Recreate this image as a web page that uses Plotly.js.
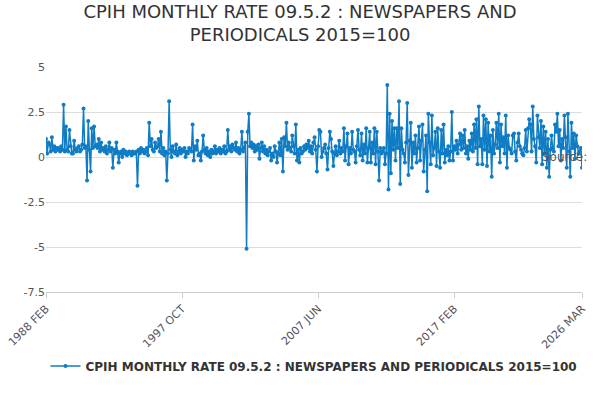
<!DOCTYPE html>
<html><head><meta charset="utf-8">
<script src="https://cdn.plot.ly/plotly-3.0.1.min.js"></script>
<style>body{margin:0}#c{width:600px;height:400px}</style>
</head><body><div id="c"></div>
<script>
var months=['JAN','FEB','MAR','APR','MAY','JUN','JUL','AUG','SEP','OCT','NOV','DEC'];
var y1988=[1.0,0.2,0.8,0.7,0.3,1.1,0.4,0.6,0.3,0.5,0.4];
var y1989=[0.5,0.3,0.6,0.4,2.9,0.3,1.7,0.4,0.3,1.5,0.6,0.2];
var y1990=[0.2,0.9,0.4,0.3,0.5,0.6,0.3,0.4,0.7,2.7,0.5,0.6];
var y1991=[-1.3,2.0,0.4,-0.8,1.6,0.5,1.7,0.6,0.7,0.5,1.0,0.3];
var y1992=[0.8,0.4,0.5,0.3,0.6,0.2,0.4,0.8,0.3,0.5,-0.6,0.4];
var y1993=[0.2,0.8,0.3,-0.3,0.2,0.3,0.0,0.4,0.2,0.3,0.1,0.2];
var y1994=[0.3,0.2,0.1,0.3,0.2,0.2,0.3,-1.6,0.4,0.2,0.5,0.3];
var y1995=[0.4,0.2,0.3,0.5,0.1,1.9,0.6,1.0,0.4,0.3,0.8,0.5];
var y1996=[0.6,1.0,0.3,1.4,0.2,0.5,0.1,0.3,-1.3,0.2,3.1,0.4];
var y1997=[0.0,0.6,0.3,0.2,0.7,0.1,0.3,0.5,0.2,0.4,0.3,0.5];
var y1998=[0.0,0.3,0.2,0.5,0.4,0.3,1.8,-0.2,0.6,0.4,0.9,0.1];
var y1999=[0.2,-0.2,0.3,1.2,0.4,0.2,0.5,0.1,0.3,0.0,0.4,0.2];
var y2000=[0.3,0.6,0.2,0.4,0.3,0.5,0.2,0.4,0.3,0.6,0.2,0.3];
var y2001=[1.5,0.4,0.6,0.3,0.7,0.5,0.4,0.8,0.3,0.5,0.2,0.4];
var y2002=[1.4,0.3,0.5,0.8,-5.1,1.4,2.4,0.6,0.8,0.5,0.7,0.3];
var y2003=[0.6,0.4,0.7,-0.1,0.5,0.8,0.3,0.6,0.2,0.4,0.1,0.3];
var y2004=[0.5,-0.2,0.2,0.0,0.6,0.3,-0.3,0.2,0.8,0.1,1.0,-0.8];
var y2005=[1.1,0.6,1.9,0.4,0.8,0.5,0.3,1.2,0.6,0.2,1.8,-0.2];
var y2006=[0.4,-0.3,0.5,0.2,0.3,0.6,0.4,0.7,0.5,0.9,0.3,0.6];
var y2007=[0.2,0.8,1.1,0.4,-0.8,0.6,1.5,1.4,0.0,0.3,0.5,0.7];
var y2008=[0.2,-0.7,0.5,1.4,1.0,0.3,-0.5,0.2,0.6,0.1,0.3,0.9];
var y2009=[0.2,0.5,0.3,1.6,-0.2,0.6,1.3,-0.4,0.5,0.2,1.4,0.4];
var y2010=[0.3,-0.3,0.6,1.5,0.4,0.1,1.3,-0.2,0.7,0.2,1.6,-0.3];
var y2011=[0.5,1.4,-0.3,0.8,0.2,1.6,-0.4,1.4,0.3,-1.3,0.5,0.2];
var y2012=[0.3,0.5,-0.4,0.2,4.0,-1.8,2.4,-0.9,2.0,0.4,1.6,-0.2];
var y2013=[1.6,0.5,3.1,-1.5,1.6,0.4,0.2,-0.3,0.8,3.0,-1.0,0.9];
var y2014=[1.9,-0.6,0.8,0.2,1.2,-0.3,0.5,1.7,-0.2,0.9,1.8,-0.8];
var y2015=[0.4,1.2,-1.9,2.4,0.8,-0.4,2.3,0.1,0.5,1.4,-0.5,1.6];
var y2016=[0.3,-0.6,1.5,0.2,1.8,-0.3,0.4,0.1,0.6,-0.2,0.3,2.5];
var y2017=[-0.2,0.6,0.4,0.9,0.2,0.7,1.3,0.4,1.2,0.5,1.5,0.2];
var y2018=[0.6,-0.1,0.9,0.4,1.3,0.3,1.8,0.5,2.1,-0.4,2.8,0.6];
var y2019=[1.0,-0.4,2.3,0.4,2.1,-0.5,1.9,0.3,1.2,-1.1,1.5,0.2];
var y2020=[0.7,1.9,0.5,2.4,-0.3,1.8,0.6,1.1,0.2,2.3,-0.6,1.2];
var y2021=[0.5,0.4,0.2,1.2,1.3,0.3,-0.2,0.8,1.3,0.6,0.4,0.2];
var y2022=[0.1,0.5,1.5,0.3,1.6,2.1,1.8,0.3,2.8,1.0,0.6,-0.3];
var y2023=[2.3,1.1,0.5,2.0,-0.4,1.7,0.2,1.4,-0.6,1.0,-1.1,0.4];
var y2024=[1.2,0.5,0.3,1.8,1.4,2.4,0.6,1.5,-0.2,1.0,0.5,2.3];
var y2025=[1.1,-0.6,2.4,0.3,-1.1,1.9,0.5,1.3,-0.1,1.2,0.6,0.2];
var y2026=[0.3,0.5,-0.6];
var tickLabels=['1988 FEB','1997 OCT','2007 JUN','2017 FEB','2026 MAR'];

var yearsData=[y1988,y1989,y1990,y1991,y1992,y1993,y1994,y1995,y1996,y1997,y1998,y1999,y2000,y2001,y2002,y2003,y2004,y2005,y2006,y2007,y2008,y2009,y2010,y2011,y2012,y2013,y2014,y2015,y2016,y2017,y2018,y2019,y2020,y2021,y2022,y2023,y2024,y2025,y2026];
var x=[],y=[];
yearsData.forEach(function(arr,k){
  var yr=1988+k, start=(yr===1988)?1:0;
  arr.forEach(function(v,j){x.push(yr+' '+months[start+j]);y.push(v);});
});
Plotly.newPlot('c',[{
  x:x,y:y,type:'scatter',mode:'lines+markers',
  name:'CPIH MONTHLY RATE 09.5.2 : NEWSPAPERS AND PERIODICALS 2015=100',
  line:{color:'#0f7cc4',width:1.5},marker:{color:'#0f7cc4',size:4}
}],{
  width:600,height:400,
  title:{text:'CPIH MONTHLY RATE 09.5.2 : NEWSPAPERS AND<br>PERIODICALS 2015=100',x:0.5,xanchor:'center',y:0.955,font:{family:'DejaVu Sans, sans-serif',size:18,color:'#333'}},
  margin:{l:46,r:18,t:67,b:108},
  font:{family:'DejaVu Sans, sans-serif',color:'#555',size:11},
  xaxis:{type:'category',automargin:false,range:[0,x.length-1],tickmode:'array',tickvals:tickLabels,ticktext:tickLabels,tickangle:-45,showgrid:false,showline:true,linecolor:'#ccc',ticks:'outside',ticklen:5,tickcolor:'#ccc'},
  yaxis:{automargin:false,range:[-7.5,5],tickvals:[-7.5,-5,-2.5,0,2.5,5],ticktext:['-7.5','-5','-2.5','0','2.5','5'],gridcolor:'#ddd',zeroline:false,ticks:'',showline:false},
  showlegend:true,
  legend:{orientation:'h',x:0.5,xanchor:'center',yref:'container',y:0.085,yanchor:'middle',font:{size:12,color:'#333',weight:'bold'}},
  annotations:[{text:'Source:',xref:'paper',yref:'container',x:1.013,y:0.025,xanchor:'right',yanchor:'middle',showarrow:false,font:{size:12,color:'#555'}}],
  plot_bgcolor:'#fff',paper_bgcolor:'#fff'
},{displayModeBar:false});
</script></body></html>
